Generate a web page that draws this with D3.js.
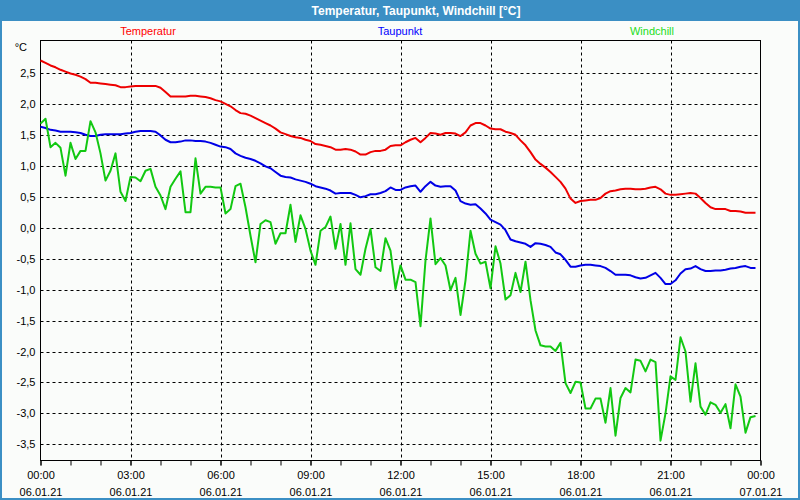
<!DOCTYPE html>
<html><head><meta charset="utf-8">
<script src="https://cdn.jsdelivr.net/npm/d3@7"></script>
<style>body{margin:0;background:#fff}svg{display:block}</style>
</head><body><svg id="c" width="800" height="500"></svg>
<script>
const titleText = "Temperatur, Taupunkt, Windchill [°C]";
const seriesNames = ["Temperatur", "Taupunkt", "Windchill"];
const dayStart = "2021-01-06T00:00";
const dayEnd = "2021-01-07T00:00";
const times = [
"00:00","00:10","00:20","00:30","00:40","00:50","01:00","01:10","01:20","01:30","01:40","01:50",
"02:00","02:10","02:20","02:30","02:40","02:50","03:00","03:10","03:20","03:30","03:40","03:50",
"04:00","04:10","04:20","04:30","04:40","04:50","05:00","05:10","05:20","05:30","05:40","05:50",
"06:00","06:10","06:20","06:30","06:40","06:50","07:00","07:10","07:20","07:30","07:40","07:50",
"08:00","08:10","08:20","08:30","08:40","08:50","09:00","09:10","09:20","09:30","09:40","09:50",
"10:00","10:10","10:20","10:30","10:40","10:50","11:00","11:10","11:20","11:30","11:40","11:50",
"12:00","12:10","12:20","12:30","12:40","12:50","13:00","13:10","13:20","13:30","13:40","13:50",
"14:00","14:10","14:20","14:30","14:40","14:50","15:00","15:10","15:20","15:30","15:40","15:50",
"16:00","16:10","16:20","16:30","16:40","16:50","17:00","17:10","17:20","17:30","17:40","17:50",
"18:00","18:10","18:20","18:30","18:40","18:50","19:00","19:10","19:20","19:30","19:40","19:50",
"20:00","20:10","20:20","20:30","20:40","20:50","21:00","21:10","21:20","21:30","21:40","21:50",
"22:00","22:10","22:20","22:30","22:40","22:50","23:00","23:10","23:20","23:30","23:40","23:50"];
const temperatur = [
2.70,2.66,2.62,2.59,2.55,2.52, 2.49,2.47,2.44,2.40,2.34,2.34,
2.33,2.32,2.31,2.30,2.27,2.27, 2.28,2.29,2.29,2.29,2.29,2.29,
2.26,2.19,2.12,2.12,2.12,2.12, 2.13,2.13,2.12,2.11,2.09,2.06,
2.04,2.00,1.96,1.90,1.85,1.84, 1.81,1.77,1.73,1.69,1.65,1.60,
1.54,1.51,1.48,1.46,1.45,1.42, 1.40,1.35,1.34,1.32,1.30,1.26,
1.26,1.27,1.26,1.23,1.18,1.18, 1.22,1.24,1.24,1.26,1.32,1.33,
1.33,1.38,1.42,1.45,1.38,1.45, 1.53,1.52,1.50,1.53,1.53,1.52,
1.48,1.54,1.65,1.69,1.69,1.65, 1.60,1.59,1.59,1.55,1.53,1.50,
1.41,1.33,1.22,1.10,1.03,0.97, 0.90,0.82,0.74,0.63,0.47,0.40,
0.43,0.44,0.45,0.45,0.48,0.55, 0.59,0.60,0.62,0.63,0.63,0.62,
0.62,0.63,0.65,0.66,0.62,0.55, 0.53,0.53,0.54,0.55,0.56,0.55,
0.48,0.40,0.33,0.30,0.30,0.30, 0.27,0.27,0.26,0.24,0.24,0.24];
const taupunkt = [
1.63,1.61,1.58,1.57,1.55,1.55, 1.55,1.54,1.53,1.50,1.48,1.48,
1.50,1.51,1.51,1.51,1.51,1.52, 1.53,1.55,1.56,1.56,1.56,1.55,
1.49,1.42,1.38,1.38,1.39,1.41, 1.41,1.40,1.40,1.39,1.37,1.34,
1.31,1.30,1.27,1.20,1.16,1.13, 1.11,1.08,1.04,0.99,0.96,0.90,
0.84,0.82,0.81,0.78,0.76,0.74, 0.71,0.67,0.65,0.63,0.60,0.55,
0.56,0.56,0.56,0.53,0.49,0.51, 0.54,0.54,0.56,0.59,0.65,0.61,
0.61,0.65,0.67,0.68,0.58,0.67, 0.74,0.68,0.66,0.67,0.67,0.60,
0.43,0.39,0.37,0.38,0.31,0.23, 0.13,0.09,0.05,-0.04,-0.19,-0.22,
-0.24,-0.26,-0.31,-0.25,-0.26,-0.28, -0.31,-0.40,-0.43,-0.52,-0.63,-0.63,
-0.61,-0.60,-0.60,-0.61,-0.62,-0.65, -0.70,-0.76,-0.76,-0.76,-0.77,-0.80,
-0.82,-0.81,-0.77,-0.73,-0.81,-0.91, -0.91,-0.85,-0.74,-0.67,-0.66,-0.62,
-0.67,-0.70,-0.70,-0.69,-0.69,-0.68, -0.66,-0.65,-0.63,-0.62,-0.65,-0.65];
const windchill = [
1.68,1.76,1.30,1.37,1.29,0.84, 1.37,1.11,1.24,1.24,1.72,1.54,
1.20,0.76,0.92,1.20,0.58,0.43, 0.82,0.81,0.75,0.92,0.95,0.66,
0.52,0.30,0.66,0.79,0.91,0.25, 0.25,1.12,0.55,0.66,0.66,0.65,
0.65,0.23,0.30,0.67,0.71,0.33, -0.13,-0.56,0.06,0.12,0.09,-0.26,
-0.09,-0.09,0.37,-0.23,0.20,-0.02, -0.37,-0.60,-0.05,0.01,0.18,-0.34,
0.06,-0.60,0.07,-0.67,-0.76,-0.34, -0.02,-0.64,-0.70,-0.17,-0.37,-0.99,
-0.61,-0.84,-0.84,-0.88,-1.59,-0.53, 0.15,-0.59,-0.49,-0.61,-1.01,-0.81,
-1.41,-0.85,-0.05,-0.42,-0.58,-0.55, -0.98,-0.30,-0.58,-1.16,-1.09,-0.73,
-1.04,-0.55,-1.17,-1.66,-1.90,-1.92, -1.92,-1.99,-1.86,-2.51,-2.67,-2.49,
-2.50,-2.92,-2.92,-2.76,-2.76,-3.15, -2.59,-3.36,-2.75,-2.59,-2.66,-2.13,
-2.15,-2.32,-2.13,-2.17,-3.44,-3.00, -2.40,-2.46,-1.77,-2.00,-2.81,-2.19,
-2.89,-3.02,-2.82,-2.86,-2.99,-2.85, -3.24,-2.53,-2.73,-3.31,-3.06,-3.04];
const yTicks = [-3.5,-3.0,-2.5,-2.0,-1.5,-1.0,-0.5,0.0,0.5,1.0,1.5,2.0,2.5];
const yDomain = [-3.76, 3.023];

const W = 800, H = 500;
const M = {left: 40.5, right: 760.5, top: 40.5, bottom: 460.5};
const FONT = "'Liberation Sans', Arial, sans-serif";
const lineColors = ["#ee0000", "#0000e6", "#12c812"];
const legendColors = ["#ff0000", "#0000ff", "#22dd22"];

const svg = d3.select("#c");
svg.append("rect").attr("x", 0).attr("y", 0).attr("width", W).attr("height", H).attr("fill", "#3b8fc4");
svg.append("rect").attr("x", 2).attr("y", 21).attr("width", W - 4).attr("height", H - 23).attr("fill", "#fafcfa");
svg.append("text").attr("x", 416).attr("y", 15).attr("text-anchor", "middle")
  .attr("font-family", FONT).attr("font-weight", "bold").attr("font-size", 12).attr("fill", "#fff").text(titleText);

const parse = d3.timeParse("%Y-%m-%dT%H:%M");
const x = d3.scaleTime().domain([parse(dayStart), parse(dayEnd)]).range([M.left, M.right]);
const y = d3.scaleLinear().domain(yDomain).range([M.bottom, M.top]);
const tDate = t => parse("2021-01-06T" + t);

// grid
const grid = svg.append("g").attr("stroke", "#000").attr("stroke-width", 1).attr("stroke-dasharray", "3,3").attr("fill", "none");
grid.selectAll("line.h").data(yTicks).join("line")
  .attr("x1", M.left).attr("x2", M.right)
  .attr("y1", d => Math.round(y(d)) + 0.5).attr("y2", d => Math.round(y(d)) + 0.5);
const majorTicks = d3.timeHour.every(3).range(parse(dayStart), d3.timeMinute.offset(parse(dayEnd), 1));
grid.selectAll("line.v").data(majorTicks.slice(1, -1)).join("line")
  .attr("x1", d => Math.round(x(d)) + 0.5).attr("x2", d => Math.round(x(d)) + 0.5)
  .attr("y1", M.top).attr("y2", M.bottom);

// axes
const fmtNum = d => d3.format(".1f")(d).replace(".", ",").replace("−", "-");
const yAxis = d3.axisLeft(y).tickValues(yTicks).tickSize(0).tickPadding(5).tickFormat(fmtNum);
const gy = svg.append("g").attr("transform", `translate(${M.left},0)`).call(yAxis);
gy.select(".domain").remove();
gy.selectAll(".tick").attr("transform", d => `translate(0,${Math.round(y(d)) + 0.5})`);
gy.selectAll("text").attr("font-family", FONT).attr("font-size", 11).attr("fill", "#000");

const minorAxis = d3.axisBottom(x).ticks(d3.timeHour.every(1)).tickSize(5).tickFormat("");
const gm = svg.append("g").attr("transform", `translate(0,${M.bottom})`).call(minorAxis);
gm.select(".domain").remove();
gm.selectAll("line").attr("stroke", "#000");

const fTime = d3.timeFormat("%H:%M"), fDate = d3.timeFormat("%d.%m.%y");
const xAxis = d3.axisBottom(x).tickValues(majorTicks).tickSize(5).tickPadding(4).tickFormat(fTime);
const gx = svg.append("g").attr("transform", `translate(0,${M.bottom})`).call(xAxis);
gx.select(".domain").remove();
gx.selectAll("line").attr("stroke", "#000");
gx.selectAll(".tick text").attr("font-family", FONT).attr("font-size", 11).attr("fill", "#000")
  .attr("dy", null).attr("y", null)
  .each(function(d) {
    const t = d3.select(this); t.text(null);
    t.append("tspan").attr("x", 0).attr("y", 18).text(fTime(d));
    t.append("tspan").attr("x", 0).attr("y", 35).text(fDate(d));
  });

// frame
svg.append("rect").attr("x", M.left).attr("y", M.top).attr("width", M.right - M.left).attr("height", M.bottom - M.top)
  .attr("fill", "none").attr("stroke", "#000").attr("stroke-width", 1);

svg.append("text").attr("x", 27).attr("y", 51).attr("text-anchor", "end")
  .attr("font-family", FONT).attr("font-size", 11).attr("fill", "#000").text("°C");

// lines
const series = [temperatur, taupunkt, windchill];
const line = d3.line().x((d, i) => x(tDate(times[i]))).y(d => y(d));
svg.append("g").selectAll("path").data(series).join("path")
  .attr("d", d => line(d)).attr("fill", "none")
  .attr("stroke", (d, i) => lineColors[i]).attr("stroke-width", 2).attr("stroke-linejoin", "round");

// legend
const legendX = [148, 400, 652];
svg.append("g").selectAll("text").data(seriesNames).join("text")
  .attr("x", (d, i) => legendX[i]).attr("y", 35).attr("text-anchor", "middle")
  .attr("font-family", FONT).attr("font-size", 11).attr("fill", (d, i) => legendColors[i]).text(d => d);
</script></body></html>
